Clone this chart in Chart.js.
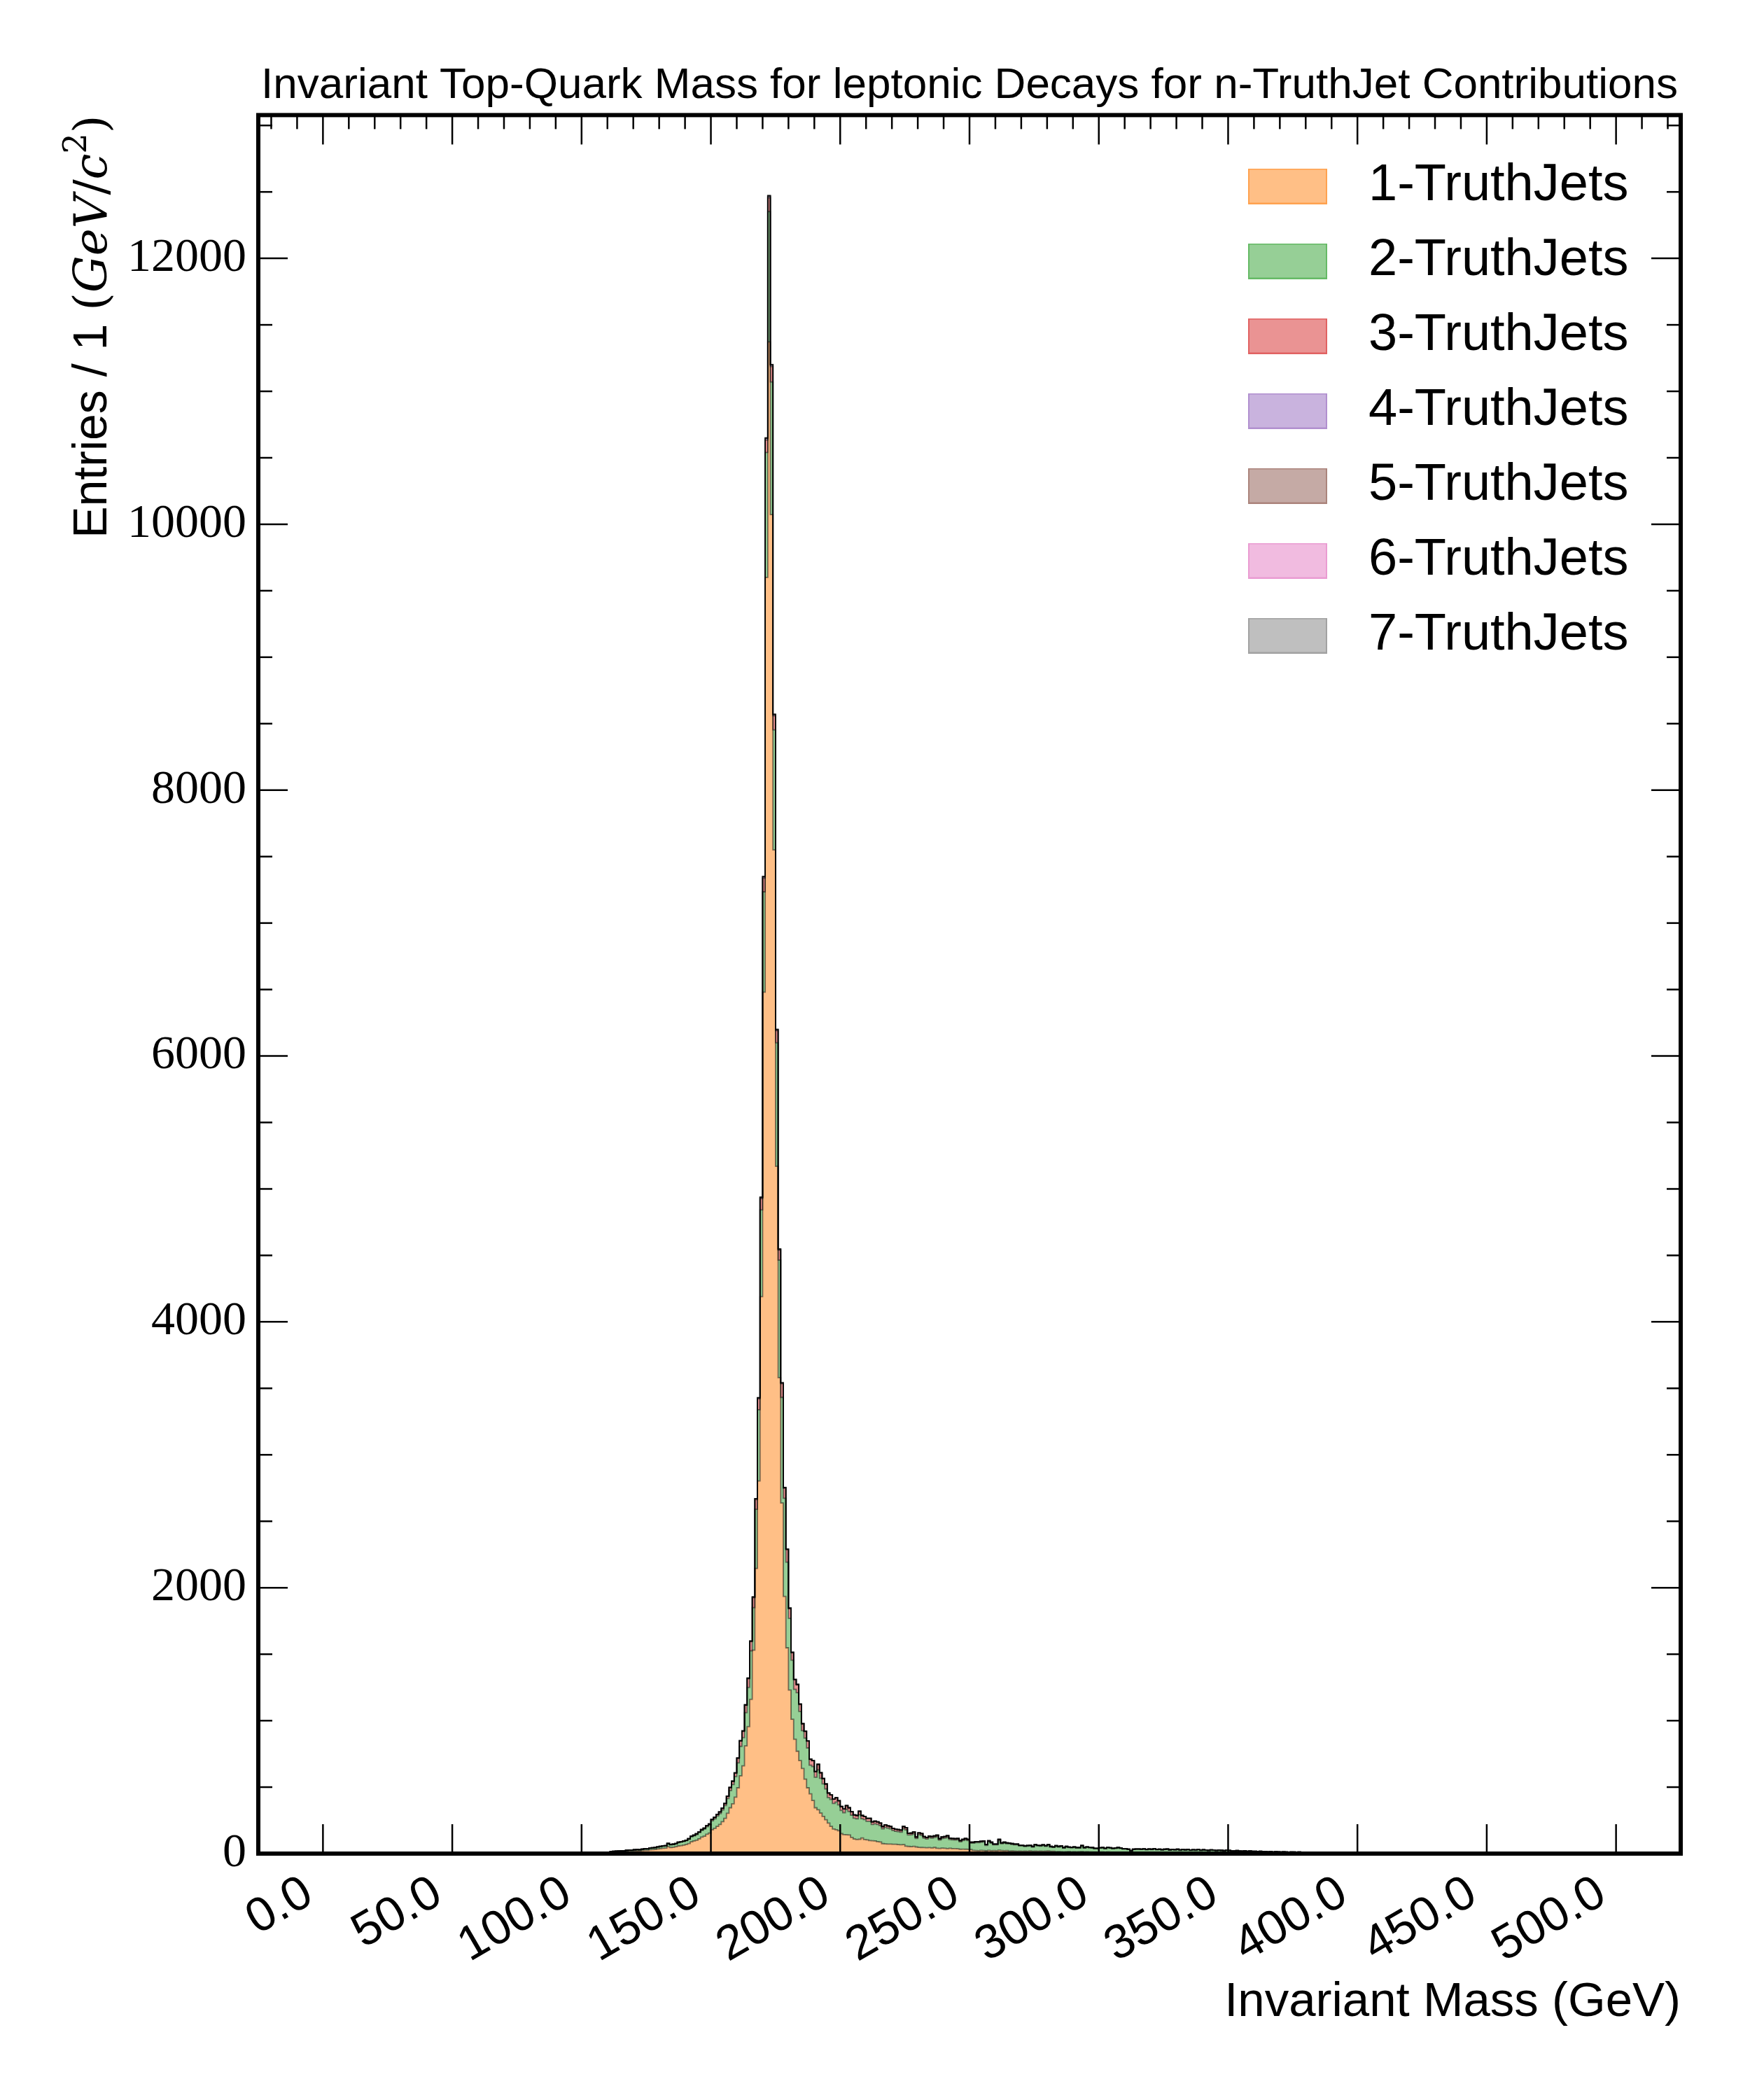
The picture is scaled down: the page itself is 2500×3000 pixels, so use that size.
<!DOCTYPE html>
<html>
<head>
<meta charset="utf-8">
<script src="https://cdn.jsdelivr.net/npm/chart.js@4.4.1/dist/chart.umd.min.js"></script>
<style>
  html, body { margin: 0; padding: 0; background: #ffffff; }
  canvas { display: block; }
</style>
</head>
<body>
<canvas id="c" width="2500" height="3000" style="width:2500px;height:3000px"></canvas>
<script>
// ---------------- data (1 GeV bins, histogram range 0..500 GeV) ----------------
const HIST_RANGE = [0, 500];
const seriesLabels = ['1-TruthJets', '2-TruthJets', '3-TruthJets', '4-TruthJets', '5-TruthJets', '6-TruthJets', '7-TruthJets'];
// lower edge (GeV) of the first bin listed in each series array; bins outside are empty
const seriesFirstBin = [110, 110, 110, 150, 166, 168, 170];

const truthJets1 = [
  1, 10, 11, 13, 13, 15, 15, 17, 18, 17,
  19, 21, 20, 23, 25, 24, 28, 30, 31, 35,
  37, 40, 41, 52, 46, 48, 52, 58, 60, 64,
  69, 76, 89, 95, 101, 111, 124, 131, 145, 155,
  180, 190, 205, 219, 240, 265, 303, 345, 375, 425,
  495, 585, 660, 810, 955, 1160, 1530, 2145, 2803, 4190,
  6480, 9600, 11372, 10073, 7550, 5170, 3580, 2637, 1935, 1548,
  1230, 1010, 860, 770, 700, 640, 560, 495, 450, 400,
  345, 330, 305, 280, 255, 230, 205, 185, 180, 172,
  150, 143, 142, 140, 122, 110, 106, 108, 118, 106,
  103, 98, 97, 95, 90, 88, 75, 73, 72, 72,
  70, 70, 68, 66, 68, 56, 54, 52, 55, 50,
  47, 46, 45, 44, 45, 43, 46, 40, 39, 41,
  40, 38, 40, 37, 38, 36, 33, 34, 33, 32,
  31, 24, 23, 22, 24, 23, 21, 24, 22, 23,
  22, 25, 23, 22, 23, 19, 20, 19, 18, 19,
  18, 19, 18, 20, 17, 19, 18, 19, 18, 19,
  20, 17, 18, 14, 15, 14, 13, 14, 15, 13,
  14, 13, 14, 15, 13, 14, 13, 12, 12, 11,
  12, 12, 11, 12, 11, 10, 11, 11, 10, 10,
  9, 9, 7, 9, 9, 9, 8, 9, 8, 9,
  8, 9, 8, 8, 7, 8, 8, 7, 8, 7,
  8, 7, 7, 7, 8, 6, 7, 7, 7, 6,
  7, 6, 6, 7, 6, 6, 6, 6, 5, 6,
  6, 5, 5, 5, 5, 4, 5, 4, 5, 4,
  4, 4, 4, 3, 4, 3, 4, 3, 3, 3,
  3, 3, 3, 2, 3, 3, 2, 3, 2, 2,
  2, 2, 2, 2, 2, 2, 2, 2, 2, 1,
  2, 1, 2, 1, 1, 1, 1, 1, 1, 1,
  1, 1, 1, 1, 1, 1, 0, 1, 1, 0,
  1, 0, 0, 1, 0, 0, 0, 0, 0, 1
];

const truthJets2 = [
  1, 4, 5, 5, 6, 6, 6, 7, 8, 8,
  9, 9, 9, 10, 10, 10, 11, 12, 13, 14,
  15, 16, 17, 22, 19, 20, 21, 25, 26, 26,
  28, 32, 37, 39, 42, 46, 50, 54, 57, 60,
  67, 72, 77, 82, 88, 96, 111, 130, 145, 155,
  188, 222, 212, 250, 295, 365, 320, 445, 536, 652,
  755, 940, 980, 998, 904, 930, 885, 795, 738, 645,
  540, 445, 375, 440, 370, 285, 310, 300, 215, 255,
  230, 300, 262, 245, 232, 192, 203, 192, 208, 195,
  175, 165, 190, 177, 167, 157, 156, 185, 145, 150,
  140, 145, 122, 129, 129, 123, 112, 125, 120, 115,
  104, 98, 98, 96, 119, 123, 86, 89, 94, 64,
  96, 92, 72, 66, 76, 74, 76, 87, 63, 73,
  77, 85, 66, 67, 64, 68, 56, 64, 71, 66,
  48, 55, 60, 61, 62, 65, 41, 66, 57, 43,
  44, 73, 52, 57, 52, 54, 49, 47, 48, 39,
  40, 34, 38, 38, 33, 44, 40, 37, 44, 36,
  43, 33, 29, 41, 35, 40, 29, 36, 30, 30,
  33, 29, 28, 41, 29, 33, 30, 30, 25, 26,
  29, 31, 26, 32, 30, 27, 28, 32, 29, 24,
  25, 22, 14, 22, 24, 24, 23, 24, 21, 23,
  22, 25, 20, 23, 20, 22, 24, 19, 21, 20,
  22, 18, 21, 19, 21, 18, 20, 18, 21, 17,
  19, 18, 17, 19, 18, 16, 19, 17, 16, 18,
  16, 15, 14, 16, 13, 13, 14, 12, 13, 11,
  12, 11, 12, 11, 11, 10, 11, 9, 11, 10,
  8, 10, 9, 8, 9, 8, 7, 8, 8, 7,
  8, 6, 7, 6, 7, 5, 6, 5, 6, 5,
  5, 5, 5, 4, 5, 4, 5, 4, 4, 4,
  4, 4, 3, 4, 3, 4, 3, 3, 3, 3,
  3, 3, 0, 3, 3, 0, 3, 2, 0, 2,
  2, 0, 0, 2, 0, 2, 0, 2, 0, 0,
  2, 0, 1, 0, 0, 2, 0, 0, 2, 0,
  0, 0, 2, 0, 0, 0, 2, 0, 0, 0,
  0, 0, 0, 0, 0, 0, 0, 0, 2, 0
];

const truthJets3 = [
  0, 1, 1, 1, 1, 1, 1, 1, 1, 1,
  1, 1, 1, 1, 2, 2, 2, 2, 2, 2,
  2, 2, 2, 3, 3, 3, 3, 3, 3, 4,
  4, 4, 5, 5, 6, 6, 7, 7, 8, 8,
  9, 10, 11, 12, 13, 15, 17, 21, 23, 26,
  34, 40, 48, 56, 66, 70, 75, 73, 82, 85,
  102, 94, 104, 116, 105, 91, 75, 103, 75, 93,
  73, 56, 72, 60, 52, 50, 49, 51, 44, 43,
  41, 40, 40, 38, 36, 33, 33, 32, 32, 30,
  28, 27, 28, 27, 25, 24, 24, 25, 23, 23,
  22, 22, 20, 20, 20, 19, 17, 18, 17, 17,
  16, 16, 15, 15, 17, 16, 13, 13, 14, 11,
  13, 13, 11, 11, 11, 11, 11, 12, 10, 11,
  11, 12, 10, 10, 10, 10, 9, 9, 10, 9,
  7, 7, 7, 7, 7, 7, 6, 7, 7, 6,
  6, 9, 6, 7, 6, 6, 6, 6, 6, 5,
  5, 5, 5, 5, 4, 5, 5, 5, 5, 5,
  5, 4, 4, 5, 4, 4, 4, 4, 4, 4,
  4, 4, 4, 5, 4, 4, 4, 4, 3, 3,
  3, 3, 3, 3, 3, 3, 3, 3, 3, 3,
  3, 2, 2, 2, 2, 2, 3, 3, 3, 3,
  3, 3, 3, 3, 3, 3, 3, 3, 3, 3,
  3, 3, 3, 3, 3, 3, 3, 3, 3, 3,
  3, 3, 2, 2, 2, 2, 2, 2, 2, 2,
  2, 2, 2, 2, 2, 2, 2, 2, 2, 2,
  2, 1, 1, 1, 1, 1, 1, 1, 1, 1,
  1, 1, 1, 1, 1, 1, 1, 1, 1, 1,
  1, 1, 1, 1, 1, 1, 1, 1, 1, 1,
  1, 1, 1, 1, 1, 1, 1, 1, 0, 1,
  0, 1, 0, 0, 0, 0, 0, 0, 1, 0,
  0, 0, 0, 0, 0, 0, 0, 0, 0, 0,
  0, 0, 0, 0, 0, 1, 0, 0, 0, 0,
  0, 0, 1
];

const truthJets4 = [
  1, 1, 1, 1, 1, 1, 1, 2, 2, 2,
  2, 2, 3, 3, 4, 4, 5, 6, 7, 8,
  10, 11, 12, 11, 9, 8, 7, 6, 5, 5,
  4, 4, 3, 3, 3, 3, 2, 2, 2, 2,
  2, 2, 2, 2, 1, 1, 1, 1, 1, 1,
  1, 1, 1, 1, 1, 1, 1, 1, 1, 1
];
const truthJets5 = [1, 1, 1, 2, 2, 3, 3, 2, 2, 1, 1, 1, 1];
const truthJets6 = [1, 1, 1, 1, 1, 1, 1];
const truthJets7 = [1, 1, 1, 1];

const seriesValues = [truthJets1, truthJets2, truthJets3, truthJets4, truthJets5, truthJets6, truthJets7];

const fillColors = ['#FFBF86', '#96CF96', '#EA9393', '#C9B3DE', '#C5AAA5', '#F1BBE0', '#BFBFBF'];
const legendEdges = ['rgba(255,127,14,0.45)', 'rgba(44,160,44,0.45)', 'rgba(214,39,40,0.45)',
                     'rgba(148,103,189,0.45)', 'rgba(140,86,75,0.45)', 'rgba(227,119,194,0.45)', 'rgba(127,127,127,0.45)'];

const xTickValues = [0, 50, 100, 150, 200, 250, 300, 350, 400, 450, 500];
const xTickLabels = ['0.0', '50.0', '100.0', '150.0', '200.0', '250.0', '300.0', '350.0', '400.0', '450.0', '500.0'];
const yTickValues = [0, 2000, 4000, 6000, 8000, 10000, 12000];
const yTickLabels = ['0', '2000', '4000', '6000', '8000', '10000', '12000'];

const X_LIMITS = [-25, 525];
const Y_LIMITS = [0, 13078];
const X_MINOR_STEP = 10, Y_MINOR_STEP = 500;

// ---------------- helpers ----------------
function histPoints(values, firstBin) {
  const pts = [];
  for (let edge = HIST_RANGE[0]; edge <= HIST_RANGE[1]; edge += 1) {
    const k = edge - firstBin;
    const v = (edge < HIST_RANGE[1] && k >= 0 && k < values.length) ? values[k] : 0;
    pts.push({ x: edge, y: v });
  }
  return pts;
}

// legend swatches (113 x 51 px rectangles) drawn as point-style images
const SWATCH_W = 113, SWATCH_H = 51;
const swatches = fillColors.map((c, i) => {
  const cv = document.createElement('canvas');
  cv.width = SWATCH_W; cv.height = SWATCH_H;
  const g = cv.getContext('2d');
  g.fillStyle = c;
  g.fillRect(0, 0, SWATCH_W, SWATCH_H);
  g.strokeStyle = legendEdges[i];
  g.lineWidth = 2;
  g.strokeRect(1, 1, SWATCH_W - 2, SWATCH_H - 2);
  return cv;
});

const MAJOR_LEN = 42, MINOR_LEN = 20;

const frameTicks = {
  id: 'frameTicks',
  afterDatasetsDraw(chart) {
    const { ctx, chartArea: a, scales: { x, y } } = chart;
    ctx.save();
    ctx.strokeStyle = '#000';
    ctx.lineWidth = 2.5;
    const seg = (x1, y1, x2, y2) => { ctx.beginPath(); ctx.moveTo(x1, y1); ctx.lineTo(x2, y2); ctx.stroke(); };
    xTickValues.forEach(v => {
      const p = x.getPixelForValue(v);
      seg(p, a.bottom, p, a.bottom - MAJOR_LEN);
      seg(p, a.top, p, a.top + MAJOR_LEN);
    });
    for (let v = -20; v <= 520; v += X_MINOR_STEP) {
      if (v % 50 === 0) continue;
      const p = x.getPixelForValue(v);
      seg(p, a.top, p, a.top + MINOR_LEN);
    }
    yTickValues.forEach(v => {
      const p = y.getPixelForValue(v);
      seg(a.left, p, a.left + MAJOR_LEN, p);
      seg(a.right, p, a.right - MAJOR_LEN, p);
    });
    for (let v = Y_MINOR_STEP; v <= 13000; v += Y_MINOR_STEP) {
      if (v % 2000 === 0) continue;
      const p = y.getPixelForValue(v);
      seg(a.left, p, a.left + MINOR_LEN, p);
      seg(a.right, p, a.right - MINOR_LEN, p);
    }
    ctx.lineWidth = 6;
    ctx.strokeRect(a.left, a.top, a.right - a.left, a.bottom - a.top);
    ctx.restore();
  }
};

const yAxisTitle = {
  id: 'yAxisTitle',
  afterDraw(chart) {
    const ctx = chart.ctx;
    const a = chart.chartArea;
    const parts = [
      { t: 'Entries / 1 ', f: '68px "Liberation Sans"', dy: 0 },
      { t: '(', f: '66px "DejaVu Serif"', dy: 0 },
      { t: 'GeV', f: 'italic 66px "DejaVu Serif"', dy: 0 },
      { t: '/', f: '66px "DejaVu Serif"', dy: 0 },
      { t: 'c', f: 'italic 66px "DejaVu Serif"', dy: 0 },
      { t: '2', f: '46px "DejaVu Serif"', dy: -29 },
      { t: ')', f: '66px "DejaVu Serif"', dy: 0 }
    ];
    ctx.save();
    let total = 0;
    parts.forEach(p => { ctx.font = p.f; p.w = ctx.measureText(p.t).width; total += p.w; });
    ctx.translate(152, a.top);
    ctx.rotate(-Math.PI / 2);
    ctx.fillStyle = '#000';
    ctx.textBaseline = 'alphabetic';
    ctx.textAlign = 'left';
    let u = -total;
    parts.forEach(p => { ctx.font = p.f; ctx.fillText(p.t, u, p.dy); u += p.w; });
    ctx.restore();
  }
};

const LEGEND_PAD = 33;
const legendPlacer = {
  id: 'legendPlacer',
  beforeDraw(chart) {
    const lg = chart.legend;
    if (!lg) return;
    lg.left = 1761 - LEGEND_PAD; lg.right = lg.left + 760; lg.width = 760;
    lg.top = 229 - LEGEND_PAD; lg.bottom = lg.top + 800; lg.height = 800;
  }
};

// ---------------- chart ----------------
const ctx = document.getElementById('c').getContext('2d');
new Chart(ctx, {
  type: 'line',
  data: {
    datasets: seriesValues.map((vals, i) => ({
      label: seriesLabels[i],
      data: histPoints(vals, seriesFirstBin[i]),
      stepped: true,
      fill: i === 0 ? 'origin' : '-1',
      backgroundColor: fillColors[i],
      borderColor: 'rgba(0,0,0,0.5)',
      borderWidth: 1.8,
      pointRadius: 0,
      pointHoverRadius: 0,
      pointHitRadius: 0,
      tension: 0
    }))
  },
  options: {
    responsive: false,
    devicePixelRatio: 1,
    animation: false,
    events: [],
    layout: { padding: { left: 0, right: 99, top: 0, bottom: 0 } },
    plugins: {
      filler: { drawTime: 'beforeDatasetsDraw' },
      tooltip: { enabled: false },
      title: {
        display: true,
        text: 'Invariant Top-Quark Mass for leptonic Decays for n-TruthJet Contributions',
        fullSize: false,
        color: '#000',
        font: { family: 'Liberation Sans', size: 62, weight: 'normal' },
        padding: { top: 86, bottom: 4 }
      },
      legend: {
        position: 'chartArea',
        align: 'start',
        labels: {
          usePointStyle: true,
          pointStyleWidth: 157,
          boxHeight: SWATCH_H,
          padding: LEGEND_PAD,
          textAlign: 'left',
          color: '#000',
          font: { family: 'Liberation Sans', size: 74 },
          generateLabels: (chart) => chart.data.datasets.map((ds, i) => ({
            text: ds.label,
            fillStyle: fillColors[i],
            strokeStyle: legendEdges[i],
            lineWidth: 0,
            pointStyle: swatches[i],
            hidden: false,
            datasetIndex: i,
            fontColor: '#000'
          }))
        }
      }
    },
    scales: {
      x: {
        type: 'linear',
        position: 'bottom',
        min: X_LIMITS[0],
        max: X_LIMITS[1],
        grid: { display: false, drawTicks: false },
        border: { display: false },
        afterBuildTicks: (s) => { s.ticks = xTickValues.map(v => ({ value: v })); },
        afterFit: (s) => { s.height = 352; },
        ticks: {
          autoSkip: false,
          minRotation: 30,
          maxRotation: 30,
          padding: 16,
          labelOffset: -20,
          color: '#000',
          font: { family: 'Liberation Sans', size: 69 },
          callback: (v, i) => xTickLabels[i]
        },
        title: {
          display: true,
          text: 'Invariant Mass (GeV)',
          align: 'end',
          color: '#000',
          font: { family: 'Liberation Sans', size: 69 },
          padding: { top: 0, bottom: 98 }
        }
      },
      y: {
        type: 'linear',
        stacked: true,
        min: Y_LIMITS[0],
        max: Y_LIMITS[1],
        grid: { display: false, drawTicks: false },
        border: { display: false },
        afterBuildTicks: (s) => { s.ticks = yTickValues.map(v => ({ value: v })); },
        afterFit: (s) => { s.width = 369; },
        ticks: {
          padding: 17,
          color: '#000',
          font: { family: 'Liberation Serif', size: 68 },
          callback: (v, i) => yTickLabels[i]
        }
      }
    }
  },
  plugins: [frameTicks, yAxisTitle, legendPlacer]
});
</script>
</body>
</html>
